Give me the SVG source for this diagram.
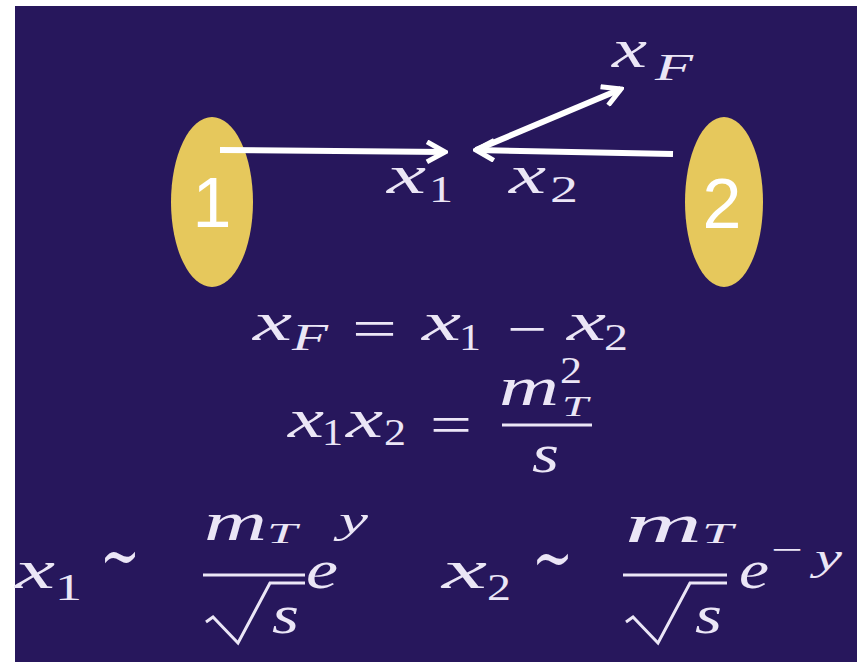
<svg xmlns="http://www.w3.org/2000/svg" width="857" height="662" viewBox="0 0 857 662">
<style>
.bg{fill:#27175c}
.blob{fill:#e6c85c}
.num{font-family:"Liberation Sans",Arial,sans-serif;font-size:70px;fill:#ffffff;text-anchor:middle}
.mi{font-family:"Liberation Serif","DejaVu Serif",serif;font-style:italic;fill:#ebe6f6}
.mr{font-family:"Liberation Serif","DejaVu Serif",serif;fill:#ebe6f6}
.tl{font-family:"DejaVu Serif",serif;fill:#ebe6f6;font-size:72px}
.b{font-size:54px}
.s{font-size:37px}
.t{font-size:29px}
.conn{stroke:#ffffff;stroke-width:6;fill:none}
.rule{stroke:#ebe6f6;stroke-width:3;fill:none}
</style>
<defs>
<marker id="chev" markerUnits="userSpaceOnUse" viewBox="0 0 24 24" refX="21" refY="12" markerWidth="24" markerHeight="24" orient="auto">
<path d="M3,2 L21,12 L3,22" fill="none" stroke="#ffffff" stroke-width="5" stroke-linejoin="miter"/>
</marker>
</defs>
<rect class="bg" x="15" y="6" width="842" height="656"/>

<g id="node-1">
<ellipse class="blob" cx="212" cy="202" rx="41" ry="85"/>
<text class="num" x="212" y="227">1</text>
</g>
<g id="node-2">
<ellipse class="blob" cx="724" cy="202" rx="39" ry="85"/>
<text class="num" x="722" y="228">2</text>
</g>

<g id="connectors">
<line class="conn" x1="220" y1="150" x2="445" y2="152" marker-end="url(#chev)"/>
<line class="conn" x1="673" y1="154" x2="476" y2="150" marker-end="url(#chev)"/>
<line class="conn" x1="476" y1="150" x2="621" y2="89" marker-end="url(#chev)"/>
</g>

<g id="label-xF">
<text class="mi b" x="612" y="67" textLength="35" lengthAdjust="spacingAndGlyphs">x</text>
<text class="mi s" x="655" y="80" textLength="38" lengthAdjust="spacingAndGlyphs">F</text>
</g>
<g id="label-x1">
<text class="mi b" x="387" y="193" textLength="39" lengthAdjust="spacingAndGlyphs">x</text>
<text class="mr s" x="429" y="202" textLength="24" lengthAdjust="spacingAndGlyphs">1</text>
</g>
<g id="label-x2">
<text class="mi b" x="509" y="193" textLength="37" lengthAdjust="spacingAndGlyphs">x</text>
<text class="mr s" x="550" y="202" textLength="28" lengthAdjust="spacingAndGlyphs">2</text>
</g>

<g id="eq1">
<text class="mi b" x="253" y="340" textLength="39" lengthAdjust="spacingAndGlyphs">x</text>
<text class="mi s" x="292" y="350" textLength="36" lengthAdjust="spacingAndGlyphs">F</text>
<text class="mr b" x="352" y="347" textLength="45" lengthAdjust="spacingAndGlyphs">=</text>
<text class="mi b" x="422" y="340" textLength="39" lengthAdjust="spacingAndGlyphs">x</text>
<text class="mr s" x="459" y="350" textLength="22" lengthAdjust="spacingAndGlyphs">1</text>
<text class="mr b" x="507" y="347" textLength="40" lengthAdjust="spacingAndGlyphs">−</text>
<text class="mi b" x="567" y="340" textLength="39" lengthAdjust="spacingAndGlyphs">x</text>
<text class="mr s" x="604" y="350" textLength="24" lengthAdjust="spacingAndGlyphs">2</text>
</g>

<g id="eq2">
<text class="mi b" x="288" y="437" textLength="36" lengthAdjust="spacingAndGlyphs">x</text>
<text class="mr s" x="322" y="445" textLength="21" lengthAdjust="spacingAndGlyphs">1</text>
<text class="mi b" x="346" y="437" textLength="37" lengthAdjust="spacingAndGlyphs">x</text>
<text class="mr s" x="384" y="445" textLength="22" lengthAdjust="spacingAndGlyphs">2</text>
<text class="mr b" x="430" y="443" textLength="42" lengthAdjust="spacingAndGlyphs">=</text>
<text class="mi b" x="499" y="405" textLength="60" lengthAdjust="spacingAndGlyphs">m</text>
<text class="mr s" x="560" y="383" textLength="22" lengthAdjust="spacingAndGlyphs">2</text>
<text class="mi t" x="562" y="416" textLength="26" lengthAdjust="spacingAndGlyphs">T</text>
<line class="rule" x1="502" y1="425" x2="592" y2="425"/>
<text class="mi b" x="532" y="472" textLength="27" lengthAdjust="spacingAndGlyphs">s</text>
</g>

<g id="eq3">
<text class="mi b" x="15" y="588" textLength="40" lengthAdjust="spacingAndGlyphs">x</text>
<text class="mr s" x="55" y="600" textLength="27" lengthAdjust="spacingAndGlyphs">1</text>
<text class="tl" x="100" y="580" textLength="40" lengthAdjust="spacingAndGlyphs">∼</text>
<text class="mi b" x="204" y="540" textLength="63" lengthAdjust="spacingAndGlyphs">m</text>
<text class="mi t" x="267" y="543" textLength="30" lengthAdjust="spacingAndGlyphs">T</text>
<line class="rule" x1="203" y1="575" x2="305" y2="575"/>
<path class="rule" d="M206,622 L213,617 L238,643 L270,583 L305,583"/>
<text class="mi b" x="272" y="633" textLength="27" lengthAdjust="spacingAndGlyphs">s</text>
<text class="mi b" x="306" y="588" textLength="32" lengthAdjust="spacingAndGlyphs">e</text>
<text class="mi s" x="339" y="533" textLength="29" lengthAdjust="spacingAndGlyphs">y</text>
</g>

<g id="eq4">
<text class="mi b" x="442" y="588" textLength="45" lengthAdjust="spacingAndGlyphs">x</text>
<text class="mr s" x="487" y="600" textLength="24" lengthAdjust="spacingAndGlyphs">2</text>
<text class="tl" x="532" y="582" textLength="41" lengthAdjust="spacingAndGlyphs">∼</text>
<text class="mi b" x="625" y="542" textLength="77" lengthAdjust="spacingAndGlyphs">m</text>
<text class="mi t" x="702" y="543" textLength="31" lengthAdjust="spacingAndGlyphs">T</text>
<line class="rule" x1="623" y1="575" x2="727" y2="575"/>
<path class="rule" d="M626,622 L633,617 L658,643 L690,583 L727,583"/>
<text class="mi b" x="695" y="633" textLength="27" lengthAdjust="spacingAndGlyphs">s</text>
<text class="mi b" x="739" y="588" textLength="30" lengthAdjust="spacingAndGlyphs">e</text>
<text class="mr s" x="771" y="562" textLength="32" lengthAdjust="spacingAndGlyphs">−</text>
<text class="mi s" x="815" y="570" textLength="27" lengthAdjust="spacingAndGlyphs">y</text>
</g>
</svg>
